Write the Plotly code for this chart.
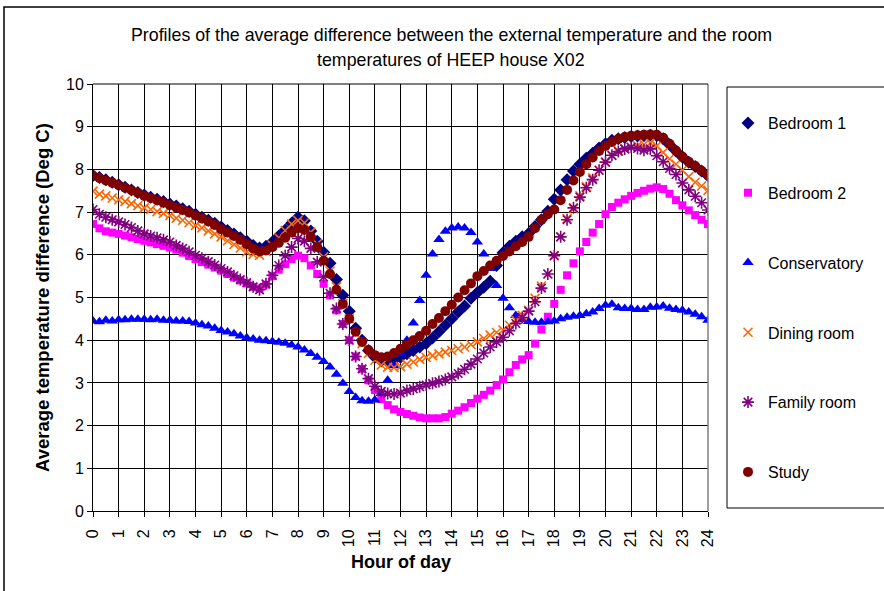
import plotly.graph_objects as go

hours = [i * 0.25 for i in range(97)]

bedroom1 = [7.86, 7.81, 7.76, 7.70, 7.64, 7.58, 7.52, 7.46, 7.40, 7.35, 7.30, 7.25, 7.19, 7.14, 7.08, 7.02,
            6.95, 6.88, 6.81, 6.74, 6.65, 6.57, 6.49, 6.40, 6.32, 6.22, 6.16, 6.20, 6.30, 6.44, 6.58, 6.74,
            6.88, 6.80, 6.56, 6.32, 6.06, 5.80, 5.42, 5.05, 4.68, 4.28, 4.00, 3.76, 3.60, 3.52, 3.49, 3.54,
            3.60, 3.68, 3.76, 3.84, 3.92, 4.05, 4.20, 4.35, 4.50, 4.66, 4.80, 4.98, 5.12, 5.24, 5.38, 5.75,
            6.05, 6.20, 6.32, 6.42, 6.50, 6.66, 6.82, 7.02, 7.30, 7.52, 7.76, 7.96, 8.12, 8.26, 8.38, 8.50,
            8.60, 8.68, 8.72, 8.75, 8.77, 8.78, 8.79, 8.80, 8.79, 8.72, 8.58, 8.43, 8.29, 8.17, 8.07, 7.96,
            7.85]

bedroom2 = [6.72, 6.62, 6.55, 6.52, 6.49, 6.45, 6.41, 6.37, 6.33, 6.29, 6.25, 6.21, 6.17, 6.12, 6.05, 5.97,
            5.90, 5.83, 5.77, 5.70, 5.63, 5.55, 5.47, 5.40, 5.33, 5.25, 5.21, 5.30, 5.50, 5.65, 5.78, 5.90,
            5.98, 5.92, 5.75, 5.55, 5.32, 5.05, 4.70, 4.38, 4.00, 3.62, 3.33, 3.06, 2.83, 2.62, 2.48, 2.38,
            2.32, 2.27, 2.23, 2.19, 2.17, 2.17, 2.17, 2.20, 2.28, 2.35, 2.43, 2.53, 2.63, 2.72, 2.82, 2.95,
            3.08, 3.25, 3.42, 3.55, 3.65, 3.92, 4.25, 4.55, 4.85, 5.18, 5.52, 5.80, 6.08, 6.30, 6.52, 6.72,
            6.95, 7.12, 7.22, 7.30, 7.38, 7.45, 7.50, 7.55, 7.58, 7.54, 7.43, 7.28, 7.16, 7.04, 6.93, 6.82,
            6.72]

conservatory = [4.45, 4.43, 4.47, 4.45, 4.48, 4.48, 4.49, 4.49, 4.49, 4.48, 4.49, 4.47, 4.47, 4.45, 4.45, 4.44,
                4.40, 4.36, 4.33, 4.28, 4.23, 4.19, 4.15, 4.10, 4.06, 4.03, 4.00, 3.99, 3.97, 3.95, 3.93, 3.89,
                3.84, 3.77, 3.69, 3.60, 3.50, 3.37, 3.20, 2.99, 2.80, 2.66, 2.58, 2.57, 2.60, 2.75, 3.06, 3.40,
                3.70, 4.00, 4.40, 4.93, 5.52, 6.02, 6.36, 6.55, 6.63, 6.65, 6.63, 6.52, 6.30, 6.02, 5.68, 5.28,
                4.98, 4.76, 4.58, 4.48, 4.44, 4.42, 4.42, 4.43, 4.45, 4.50, 4.54, 4.56, 4.58, 4.62, 4.66, 4.74,
                4.82, 4.84, 4.76, 4.74, 4.74, 4.72, 4.72, 4.77, 4.78, 4.80, 4.75, 4.72, 4.70, 4.66, 4.61, 4.55,
                4.47]

dining = [7.49, 7.42, 7.38, 7.33, 7.29, 7.25, 7.20, 7.15, 7.10, 7.06, 7.01, 6.97, 6.92, 6.86, 6.81, 6.75,
          6.69, 6.63, 6.56, 6.49, 6.42, 6.33, 6.24, 6.16, 6.07, 6.01, 5.99, 6.08, 6.22, 6.40, 6.57, 6.72,
          6.80, 6.75, 6.53, 6.26, 5.95, 5.62, 5.25, 4.86, 4.50, 4.15, 3.92, 3.69, 3.53, 3.42, 3.37, 3.36,
          3.38, 3.44, 3.49, 3.55, 3.60, 3.64, 3.68, 3.72, 3.76, 3.80, 3.84, 3.90, 3.96, 4.04, 4.12, 4.18,
          4.24, 4.35, 4.47, 4.58, 4.70, 4.98, 5.27, 5.55, 5.98, 6.42, 6.85, 7.08, 7.38, 7.60, 7.80, 7.98,
          8.17, 8.33, 8.44, 8.48, 8.52, 8.55, 8.58, 8.62, 8.55, 8.40, 8.25, 8.12, 7.98, 7.83, 7.70, 7.61,
          7.51]

family = [7.06, 6.95, 6.88, 6.82, 6.77, 6.71, 6.64, 6.56, 6.49, 6.44, 6.40, 6.35, 6.30, 6.22, 6.15, 6.07,
          5.99, 5.92, 5.84, 5.76, 5.68, 5.60, 5.51, 5.42, 5.35, 5.25, 5.18, 5.32, 5.52, 5.75, 5.98, 6.18,
          6.38, 6.32, 6.15, 5.83, 5.48, 5.10, 4.74, 4.38, 4.00, 3.62, 3.33, 3.10, 2.92, 2.80, 2.75, 2.74,
          2.76, 2.82, 2.86, 2.91, 2.95, 2.99, 3.03, 3.08, 3.14, 3.22, 3.32, 3.44, 3.56, 3.70, 3.84, 3.96,
          4.07, 4.22, 4.39, 4.53, 4.68, 4.90, 5.22, 5.55, 5.98, 6.42, 6.82, 7.10, 7.35, 7.57, 7.76, 7.98,
          8.17, 8.33, 8.42, 8.48, 8.52, 8.49, 8.45, 8.48, 8.32, 8.18, 8.02, 7.88, 7.68, 7.52, 7.37, 7.22,
          7.05]

study = [7.85, 7.80, 7.74, 7.69, 7.63, 7.57, 7.51, 7.45, 7.38, 7.33, 7.28, 7.22, 7.16, 7.11, 7.05, 6.99,
         6.92, 6.85, 6.78, 6.70, 6.60, 6.52, 6.44, 6.35, 6.25, 6.15, 6.08, 6.10, 6.18, 6.28, 6.40, 6.52,
         6.62, 6.58, 6.42, 6.18, 5.86, 5.55, 5.18, 4.85, 4.50, 4.20, 3.96, 3.77, 3.65, 3.60, 3.62, 3.70,
         3.80, 3.90, 4.00, 4.10, 4.22, 4.38, 4.52, 4.68, 4.83, 5.00, 5.17, 5.33, 5.50, 5.62, 5.75, 5.86,
         5.97, 6.08, 6.20, 6.30, 6.42, 6.62, 6.82, 6.95, 7.06, 7.28, 7.52, 7.74, 7.94, 8.12, 8.28, 8.43,
         8.55, 8.64, 8.71, 8.76, 8.79, 8.80, 8.81, 8.82, 8.81, 8.74, 8.60, 8.44, 8.30, 8.18, 8.08, 7.97,
         7.86]

series_names = ["Bedroom 1", "Bedroom 2", "Conservatory", "Dining room", "Family room", "Study"]
series_values = [bedroom1, bedroom2, conservatory, dining, family, study]
x_ticks = list(range(0, 25))
y_ticks = list(range(0, 11))
title_lines = ["Profiles of the average difference between the external temperature and the room",
               "temperatures of HEEP house X02"]

styles = [
    dict(symbol="diamond", color="#000080", size=10, line=dict(width=0)),
    dict(symbol="square", color="#FF00FF", size=8, line=dict(width=0)),
    dict(symbol="triangle-up", color="#0000FF", size=10, line=dict(width=0)),
    dict(symbol="x-thin-open", color="#FF6600", size=9, line=dict(width=1.6, color="#FF6600")),
    dict(symbol="asterisk-open", color="#800080", size=10, line=dict(width=1.6, color="#800080")),
    dict(symbol="circle", color="#800000", size=10, line=dict(width=0)),
]

fig = go.Figure()
for i, (name, vals) in enumerate(zip(series_names, series_values)):
    fig.add_trace(go.Scatter(x=hours, y=vals, mode="markers", name=name,
                             legendgroup=name, marker=styles[i]))

L, R, T, B = 93, 708, 84, 511
W, H = 884, 591
pw, ph = R - L, B - T

def px2paper_x(px):
    return (px - L) / pw

def px2paper_y(py):
    return (B - py) / ph

FONT = "Liberation Sans, Arial, sans-serif"

annotations = [
    dict(text=title_lines[0], xref="paper", yref="paper", x=px2paper_x(451), y=px2paper_y(35),
         xanchor="center", yanchor="middle", showarrow=False, font=dict(size=17.8, family=FONT)),
    dict(text=title_lines[1], xref="paper", yref="paper", x=px2paper_x(451), y=px2paper_y(60),
         xanchor="center", yanchor="middle", showarrow=False, font=dict(size=17.8, family=FONT)),
    dict(text="<b>Hour of day</b>", xref="paper", yref="paper", x=px2paper_x(401), y=px2paper_y(562),
         xanchor="center", yanchor="middle", showarrow=False, font=dict(size=18, family=FONT)),
    dict(text="<b>Average temperature difference (Deg C)</b>", xref="paper", yref="paper",
         x=px2paper_x(42), y=px2paper_y(298), textangle=-90,
         xanchor="center", yanchor="middle", showarrow=False, font=dict(size=18.5, family=FONT)),
]

fig.update_layout(
    width=W, height=H,
    margin=dict(l=L, r=W - R, t=T, b=H - B, pad=0),
    paper_bgcolor="white", plot_bgcolor="white",
    font=dict(family=FONT, color="black", size=16),
    showlegend=True,
    legend=dict(x=px2paper_x(728), xanchor="left", y=px2paper_y(106), yanchor="top",
                bgcolor="rgba(0,0,0,0)", borderwidth=0,
                font=dict(size=16), tracegroupgap=46, itemsizing="trace"),
    xaxis=dict(range=[0, 24], tickvals=x_ticks, ticktext=[str(v) for v in x_ticks],
               tickangle=-90, showgrid=True, gridcolor="black", gridwidth=1,
               showline=True, linecolor="black", linewidth=1, mirror=False,
               ticks="outside", ticklen=5, tickcolor="black", zeroline=False,
               tickfont=dict(size=16), ticklabelstandoff=6),
    yaxis=dict(range=[0, 10], tickvals=y_ticks, showgrid=True, gridcolor="black", gridwidth=1,
               showline=True, linecolor="black", linewidth=1,
               ticks="outside", ticklen=5, tickcolor="black", zeroline=False,
               tickfont=dict(size=16)),
    annotations=annotations,
    shapes=[
        dict(type="line", xref="paper", yref="paper", x0=1, x1=1, y0=0, y1=1,
             line=dict(color="#808080", width=1.5)),
        dict(type="line", xref="paper", yref="paper", x0=0, x1=1, y0=1, y1=1,
             line=dict(color="black", width=1)),
        dict(type="rect", xref="paper", yref="paper",
             x0=px2paper_x(727), x1=px2paper_x(900), y0=px2paper_y(508), y1=px2paper_y(87),
             line=dict(color="black", width=1), fillcolor="rgba(0,0,0,0)", layer="above"),
        dict(type="rect", xref="paper", yref="paper",
             x0=px2paper_x(4), x1=px2paper_x(900), y0=px2paper_y(600), y1=px2paper_y(7),
             line=dict(color="black", width=1.5), fillcolor="rgba(0,0,0,0)", layer="above"),
    ],
)

fig.write_html("out.html")
